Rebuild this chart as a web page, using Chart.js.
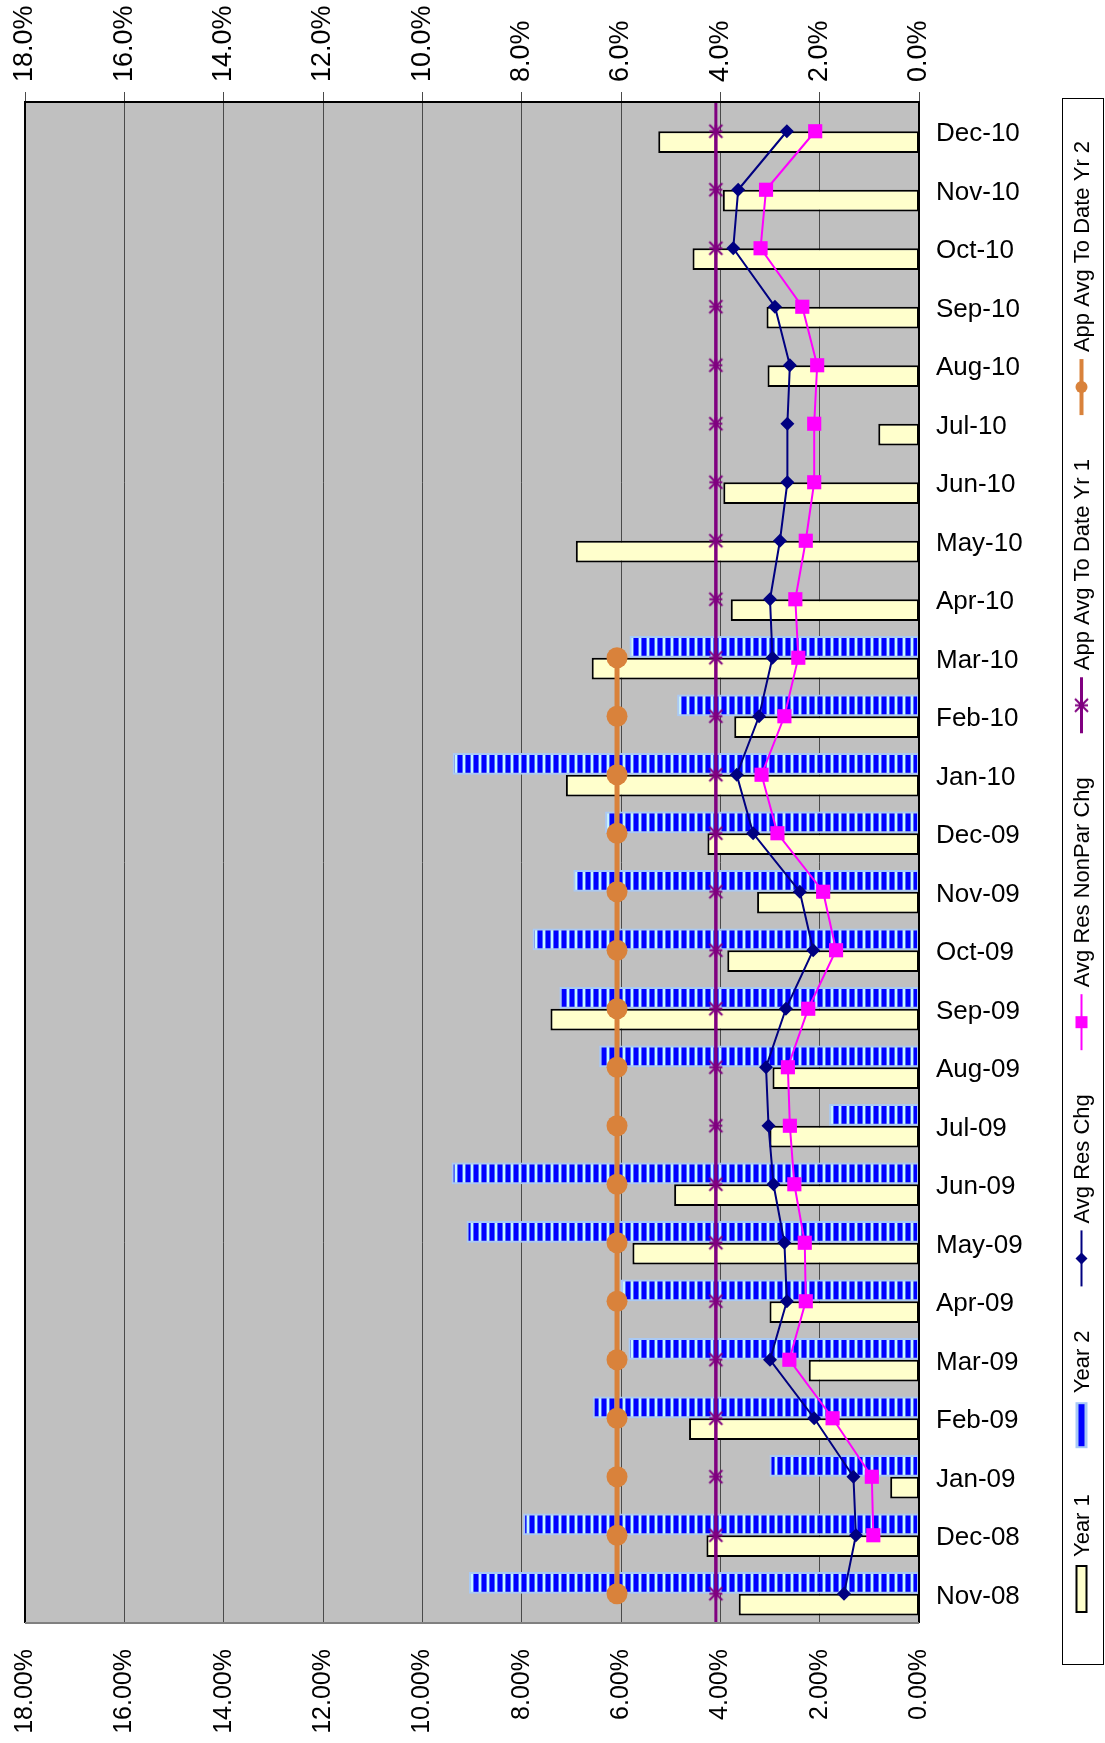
<!DOCTYPE html>
<html>
<head>
<meta charset="utf-8">
<title>Year-on-year change by month</title>
<script src="https://cdn.jsdelivr.net/npm/chart.js@4/dist/chart.umd.min.js"></script>
<style>
  html, body { margin: 0; padding: 0; background: #ffffff; }
  canvas { display: block; }
</style>
</head>
<body>
<canvas id="chart" width="1105" height="1743"></canvas>
<script>
// Months in chronological order (values in percent)
const months = ['Nov-08', 'Dec-08', 'Jan-09', 'Feb-09', 'Mar-09', 'Apr-09', 'May-09', 'Jun-09',
  'Jul-09', 'Aug-09', 'Sep-09', 'Oct-09', 'Nov-09', 'Dec-09', 'Jan-10', 'Feb-10', 'Mar-10',
  'Apr-10', 'May-10', 'Jun-10', 'Jul-10', 'Aug-10', 'Sep-10', 'Oct-10', 'Nov-10', 'Dec-10'];

const year1 = [3.63, 4.28, 0.58, 4.63, 2.22, 3.01, 5.77, 4.93, 3.01, 2.95, 7.42, 3.86, 3.26,
  4.26, 7.11, 3.72, 6.59, 3.79, 6.91, 3.94, 0.82, 3.05, 3.07, 4.56, 3.95, 5.25];

const year2 = [9.06, 7.97, 3.01, 6.57, 5.85, 6.00, 9.11, 9.41, 1.81, 6.44, 7.24, 7.78, 6.96,
  6.32, 9.39, 4.87, 5.83, null, null, null, null, null, null, null, null, null];

const avgResChg = [1.51, 1.27, 1.32, 2.11, 3.00, 2.66, 2.71, 2.93, 3.03, 3.08, 2.68, 2.13, 2.40,
  3.34, 3.67, 3.22, 2.95, 3.00, 2.80, 2.65, 2.65, 2.60, 2.90, 3.74, 3.64, 2.66];

const avgResNonParChg = [null, 0.92, 0.95, 1.74, 2.61, 2.28, 2.30, 2.51, 2.60, 2.64, 2.23, 1.67,
  1.93, 2.85, 3.17, 2.71, 2.43, 2.49, 2.28, 2.11, 2.11, 2.05, 2.35, 3.19, 3.08, 2.09];

const appAvgYr1 = [4.09, 4.09, 4.09, 4.09, 4.09, 4.09, 4.09, 4.09, 4.09, 4.09, 4.09, 4.09, 4.09,
  4.09, 4.09, 4.09, 4.09, 4.09, 4.09, 4.09, 4.09, 4.09, 4.09, 4.09, 4.09, 4.09];

const appAvgYr2 = [6.08, 6.08, 6.08, 6.08, 6.08, 6.08, 6.08, 6.08, 6.08, 6.08, 6.08, 6.08, 6.08,
  6.08, 6.08, 6.08, 6.08, null, null, null, null, null, null, null, null, null];

// Value-axis tick positions (percent)
const valueTicks = [0, 2, 4, 6, 8, 10, 12, 14, 16, 18];

// The category axis runs newest month at the top
const topDown = arr => arr.slice().reverse();

const FONT = "'Liberation Sans', Arial, sans-serif";
Chart.defaults.font.family = FONT;
Chart.defaults.color = '#000000';

const canvas = document.getElementById('chart');
const ctx = canvas.getContext('2d');

// Vertical blue/cyan stripes for the second-year bars
function stripePattern() {
  const p = document.createElement('canvas');
  p.width = 8; p.height = 1;
  const g = p.getContext('2d');
  const cols = ['#c8f6ff', '#4f6cff', '#0000ff', '#0000ff', '#0000ff', '#0000ff', '#4f6cff', '#c8f6ff'];
  cols.forEach((c, i) => { g.fillStyle = c; g.fillRect(i, 0, 1, 1); });
  return ctx.createPattern(p, 'repeat');
}

// Asterisk marker used by the first-year average line
function starMarker(color) {
  const s = 17;
  const c = document.createElement('canvas');
  c.width = s; c.height = s;
  const g = c.getContext('2d');
  const m = s / 2, a = 6.5;
  g.strokeStyle = color;
  g.lineWidth = 2;
  g.beginPath();
  g.moveTo(m - a, m - a); g.lineTo(m + a, m + a);
  g.moveTo(m + a, m - a); g.lineTo(m - a, m + a);
  g.moveTo(m - a, m); g.lineTo(m + a, m);
  g.moveTo(m, m - a); g.lineTo(m, m + a);
  g.stroke();
  return c;
}

const stripes = stripePattern();
const star = starMarker('#800080');

const COLORS = {
  appYr2: '#d9823b',
  appYr1: '#800080',
  nonPar: '#ff00ff',
  avgRes: '#000080',
  year1Fill: '#ffffcc',
  year2Edge: '#a9c9f5'
};

// Plot background, frame, full-height first-year average line and the rotated legend
const framePlugin = {
  id: 'frame',
  beforeDraw(chart) {
    const { ctx: c, chartArea: a } = chart;
    c.save();
    c.fillStyle = '#ffffff';
    c.fillRect(0, 0, chart.width, chart.height);
    c.fillStyle = '#c0c0c0';
    c.fillRect(a.left, a.top, a.right - a.left, a.bottom - a.top);
    c.restore();
  },
  afterDatasetsDraw(chart) {
    const { ctx: c, chartArea: a } = chart;
    const x = chart.scales.x.getPixelForValue(appAvgYr1[0]);
    c.save();
    c.strokeStyle = COLORS.appYr1;
    c.lineWidth = 3;
    c.beginPath();
    c.moveTo(x, a.top);
    c.lineTo(x, a.bottom);
    c.stroke();
    c.restore();
  },
  afterDraw(chart) {
    const { ctx: c, chartArea: a } = chart;
    c.save();
    // plot frame
    c.lineWidth = 2;
    c.strokeStyle = '#000000';
    c.beginPath();
    c.moveTo(a.left, a.bottom); c.lineTo(a.left, a.top); c.lineTo(a.right, a.top); c.lineTo(a.right, a.bottom);
    c.stroke();
    c.strokeStyle = '#808080';
    c.beginPath();
    c.moveTo(a.left, a.bottom); c.lineTo(a.right, a.bottom);
    c.stroke();

    // legend box
    const box = { x: chart.width - 43, y: 98, w: 41, h: 1566 };
    c.lineWidth = 1;
    c.strokeStyle = '#000000';
    c.fillStyle = '#ffffff';
    c.fillRect(box.x + 0.5, box.y + 0.5, box.w, box.h);
    c.strokeRect(box.x + 0.5, box.y + 0.5, box.w, box.h);

    const cx = box.x + 19.5;
    const textGap = 7, itemGap = 44;
    let y = box.y + box.h - 50;
    c.font = '22px ' + FONT;
    const sets = chart.data.datasets.slice().reverse();
    sets.forEach(ds => {
      const symLen = ds.type === 'bar' ? 50 : 56;
      const top = y - symLen;
      if (ds.type === 'bar') {
        if (ds.label === 'Year 1') {
          c.fillStyle = ds.backgroundColor;
          c.fillRect(cx - 5, top + 2, 10, symLen - 4);
          c.lineWidth = 2;
          c.strokeStyle = ds.borderColor;
          c.strokeRect(cx - 5, top + 2, 10, symLen - 4);
        } else {
          c.fillStyle = ds.borderColor;
          c.fillRect(cx - 6, top + 2, 12, symLen - 4);
          c.fillStyle = '#0000ff';
          c.fillRect(cx - 3, top + 4, 6, symLen - 8);
        }
      } else {
        c.strokeStyle = ds.borderColor;
        c.lineWidth = Math.min(ds.borderWidth, 4);
        c.beginPath();
        c.moveTo(cx, top); c.lineTo(cx, y);
        c.stroke();
        const my = top + symLen / 2;
        c.fillStyle = ds.backgroundColor || ds.borderColor;
        if (ds.pointStyle === 'circle') {
          c.beginPath(); c.arc(cx, my, 6, 0, Math.PI * 2); c.fill();
        } else if (ds.pointStyle === 'rect') {
          c.fillRect(cx - 6, my - 6, 12, 12);
        } else if (ds.pointStyle === 'rectRot') {
          c.beginPath();
          c.moveTo(cx, my - 6); c.lineTo(cx + 6, my); c.lineTo(cx, my + 6); c.lineTo(cx - 6, my);
          c.closePath(); c.fill();
        } else {
          c.drawImage(ds.pointStyle, cx - ds.pointStyle.width / 2, my - ds.pointStyle.height / 2);
        }
      }
      const ty = top - textGap;
      c.save();
      c.translate(cx + 1, ty);
      c.rotate(-Math.PI / 2);
      c.fillStyle = '#000000';
      c.textAlign = 'left';
      c.textBaseline = 'middle';
      c.fillText(ds.label, 0, 0);
      c.restore();
      y = ty - c.measureText(ds.label).width - itemGap;
    });
    c.restore();
  }
};

const pctAxis = (position, decimals, fontSize, tickExtra, extra) => Object.assign({
  type: 'linear',
  position: position,
  reverse: true,
  min: 0,
  max: 18,
  afterBuildTicks: s => { s.ticks = valueTicks.map(v => ({ value: v })); },
  ticks: Object.assign({
    autoSkip: false,
    minRotation: 90,
    maxRotation: 90,
    color: '#000000',
    font: { family: FONT, size: fontSize, lineHeight: 1.2 },
    callback: v => Number(v).toFixed(decimals) + '%'
  }, tickExtra),
  border: { display: false }
}, extra);

new Chart(ctx, {
  type: 'bar',
  data: {
    labels: topDown(months),
    datasets: [
      {
        type: 'line', label: 'App Avg To Date Yr 2', data: topDown(appAvgYr2), indexAxis: 'y',
        borderColor: COLORS.appYr2, backgroundColor: COLORS.appYr2, borderWidth: 5,
        pointStyle: 'circle', pointRadius: 10.5, pointBorderWidth: 0, order: 1,
        xAxisID: 'x', yAxisID: 'y'
      },
      {
        type: 'line', label: 'App Avg To Date Yr 1', data: topDown(appAvgYr1), indexAxis: 'y',
        borderColor: COLORS.appYr1, backgroundColor: COLORS.appYr1, borderWidth: 3,
        pointStyle: star, pointRadius: 8, order: 2,
        xAxisID: 'x', yAxisID: 'y'
      },
      {
        type: 'line', label: 'Avg Res NonPar Chg', data: topDown(avgResNonParChg), indexAxis: 'y',
        borderColor: COLORS.nonPar, backgroundColor: COLORS.nonPar, borderWidth: 2,
        pointStyle: 'rect', pointRadius: 10, pointBorderWidth: 0, order: 3,
        xAxisID: 'x', yAxisID: 'y'
      },
      {
        type: 'line', label: 'Avg Res Chg', data: topDown(avgResChg), indexAxis: 'y',
        borderColor: COLORS.avgRes, backgroundColor: COLORS.avgRes, borderWidth: 2,
        pointStyle: 'rectRot', pointRadius: 7, pointBorderWidth: 0, order: 4,
        xAxisID: 'x', yAxisID: 'y'
      },
      {
        type: 'bar', label: 'Year 2', data: topDown(year2),
        backgroundColor: stripes, borderColor: COLORS.year2Edge, borderWidth: 2,
        borderSkipped: false, order: 5, xAxisID: 'x', yAxisID: 'y'
      },
      {
        type: 'bar', label: 'Year 1', data: topDown(year1),
        backgroundColor: COLORS.year1Fill, borderColor: '#000000', borderWidth: 2,
        borderSkipped: false, order: 6, xAxisID: 'x', yAxisID: 'y'
      }
    ]
  },
  options: {
    indexAxis: 'y',
    responsive: false,
    animation: false,
    devicePixelRatio: 1,
    events: [],
    layout: { padding: { left: 25, right: 50, top: 0, bottom: 0 } },
    datasets: { bar: { categoryPercentage: 0.74, barPercentage: 1.0 } },
    plugins: { legend: { display: false }, tooltip: { enabled: false } },
    scales: {
      x: pctAxis('bottom', 2, 25, { padding: 26 }, {
        grid: { display: false, drawTicks: false },
        afterFit: s => { s.height = 120; }
      }),
      // rotated labels on a top axis sit one line-height left of their tick; labelOffset recentres them
      xTop: pctAxis('top', 1, 27, { padding: 10, labelOffset: 27 * 1.2 }, {
        grid: { display: true, color: '#4a4a4a', lineWidth: 1, drawTicks: true, tickLength: 10, tickColor: '#4a4a4a' },
        afterFit: s => { s.height = 102; }
      }),
      y: {
        type: 'category',
        position: 'right',
        offset: true,
        grid: { display: false, drawTicks: false },
        border: { display: false },
        ticks: { autoSkip: false, padding: 17, labelOffset: 3, color: '#000000', font: { family: FONT, size: 26 } },
        afterFit: s => { s.width = 136; }
      }
    }
  },
  plugins: [framePlugin]
});
</script>
</body>
</html>
